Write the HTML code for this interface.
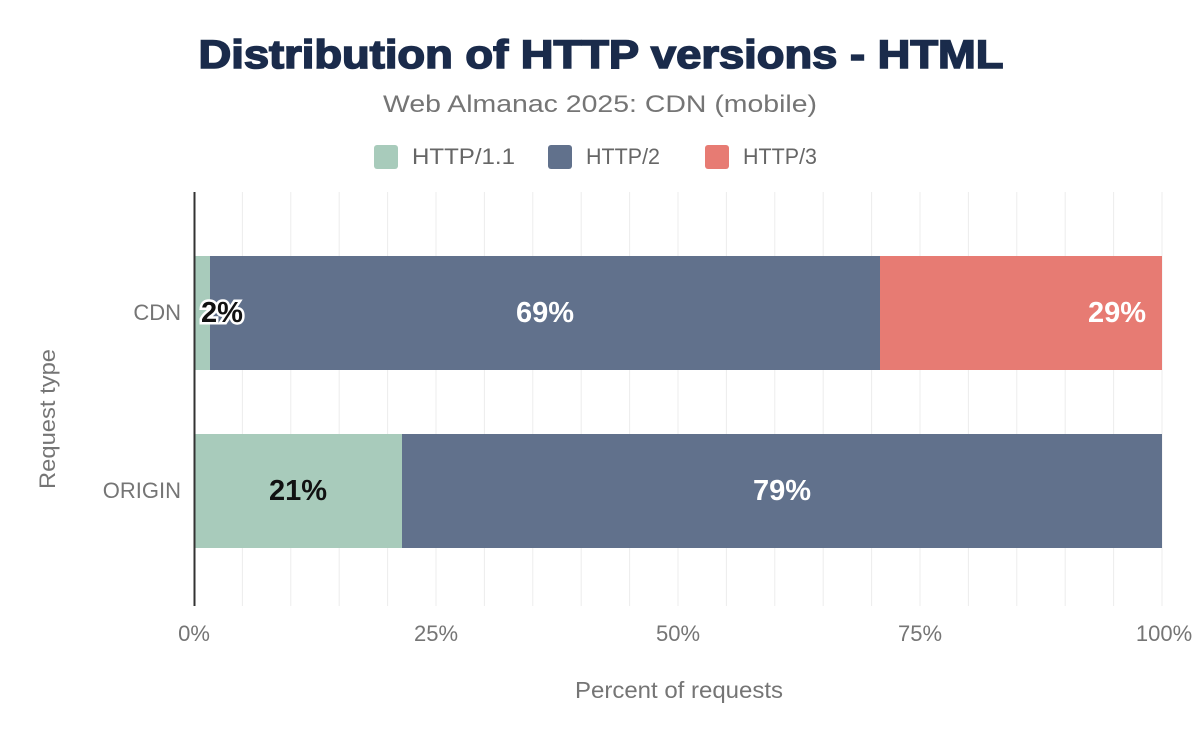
<!DOCTYPE html>
<html><head><meta charset="utf-8"><style>
body{margin:0;background:#fff;}
svg{display:block;font-family:"Liberation Sans",sans-serif;}
</style></head><body>
<svg width="1200" height="742" viewBox="0 0 1200 742">
<text x="601" y="68" text-anchor="middle" font-size="40" font-weight="bold" fill="#1a2b4b" stroke="#1a2b4b" stroke-width="1.6" textLength="805" lengthAdjust="spacingAndGlyphs">Distribution of HTTP versions - HTML</text>
<text x="600" y="112" text-anchor="middle" font-size="24" fill="#757575" textLength="434" lengthAdjust="spacingAndGlyphs">Web Almanac 2025: CDN (mobile)</text>
<rect x="374" y="145" width="24" height="24" rx="3" fill="#a8cbbb"/>
<text x="412" y="164" font-size="22" fill="#666" textLength="103" lengthAdjust="spacingAndGlyphs">HTTP/1.1</text>
<rect x="548" y="145" width="24" height="24" rx="3" fill="#61718c"/>
<text x="586" y="164" font-size="22" fill="#666" textLength="74" lengthAdjust="spacingAndGlyphs">HTTP/2</text>
<rect x="705" y="145" width="24" height="24" rx="3" fill="#e77b73"/>
<text x="743" y="164" font-size="22" fill="#666" textLength="74" lengthAdjust="spacingAndGlyphs">HTTP/3</text>
<g stroke="#ececec" stroke-width="1">
<line x1="242.4" y1="192" x2="242.4" y2="606"/><line x1="290.8" y1="192" x2="290.8" y2="606"/><line x1="339.2" y1="192" x2="339.2" y2="606"/><line x1="387.6" y1="192" x2="387.6" y2="606"/><line x1="436" y1="192" x2="436" y2="606"/><line x1="484.4" y1="192" x2="484.4" y2="606"/><line x1="532.8" y1="192" x2="532.8" y2="606"/><line x1="581.2" y1="192" x2="581.2" y2="606"/><line x1="629.6" y1="192" x2="629.6" y2="606"/><line x1="678" y1="192" x2="678" y2="606"/><line x1="726.4" y1="192" x2="726.4" y2="606"/><line x1="774.8" y1="192" x2="774.8" y2="606"/><line x1="823.2" y1="192" x2="823.2" y2="606"/><line x1="871.6" y1="192" x2="871.6" y2="606"/><line x1="920" y1="192" x2="920" y2="606"/><line x1="968.4" y1="192" x2="968.4" y2="606"/><line x1="1016.8" y1="192" x2="1016.8" y2="606"/><line x1="1065.2" y1="192" x2="1065.2" y2="606"/><line x1="1113.6" y1="192" x2="1113.6" y2="606"/><line x1="1162" y1="192" x2="1162" y2="606"/>
</g>
<rect x="194" y="256" width="16" height="114" fill="#a8cbbb"/>
<rect x="210" y="256" width="670" height="114" fill="#61718c"/>
<rect x="880" y="256" width="282" height="114" fill="#e77b73"/>
<rect x="194" y="434" width="208" height="114" fill="#a8cbbb"/>
<rect x="402" y="434" width="760" height="114" fill="#61718c"/>
<line x1="194.5" y1="192" x2="194.5" y2="606" stroke="#333" stroke-width="2"/>
<g font-size="29" font-weight="bold" text-anchor="middle">
<text x="222" y="322" fill="#111" stroke="#fff" stroke-width="5" paint-order="stroke">2%</text>
<text x="545" y="322" fill="#fff">69%</text>
<text x="1117" y="322" fill="#fff">29%</text>
<text x="298" y="500" fill="#111">21%</text>
<text x="782" y="500" fill="#fff">79%</text>
</g>
<g font-size="22" fill="#757575" text-anchor="end">
<text x="181" y="320">CDN</text>
<text x="181" y="498">ORIGIN</text>
</g>
<g font-size="22" fill="#757575" text-anchor="middle">
<text x="194" y="641">0%</text><text x="436" y="641">25%</text><text x="678" y="641">50%</text><text x="920" y="641">75%</text><text x="1164" y="641">100%</text>
<text x="679" y="698" font-size="23" textLength="208" lengthAdjust="spacingAndGlyphs">Percent of requests</text>
<text transform="translate(55,419) rotate(-90)" font-size="22" textLength="140" lengthAdjust="spacingAndGlyphs">Request type</text>
</g>
</svg>
</body></html>
